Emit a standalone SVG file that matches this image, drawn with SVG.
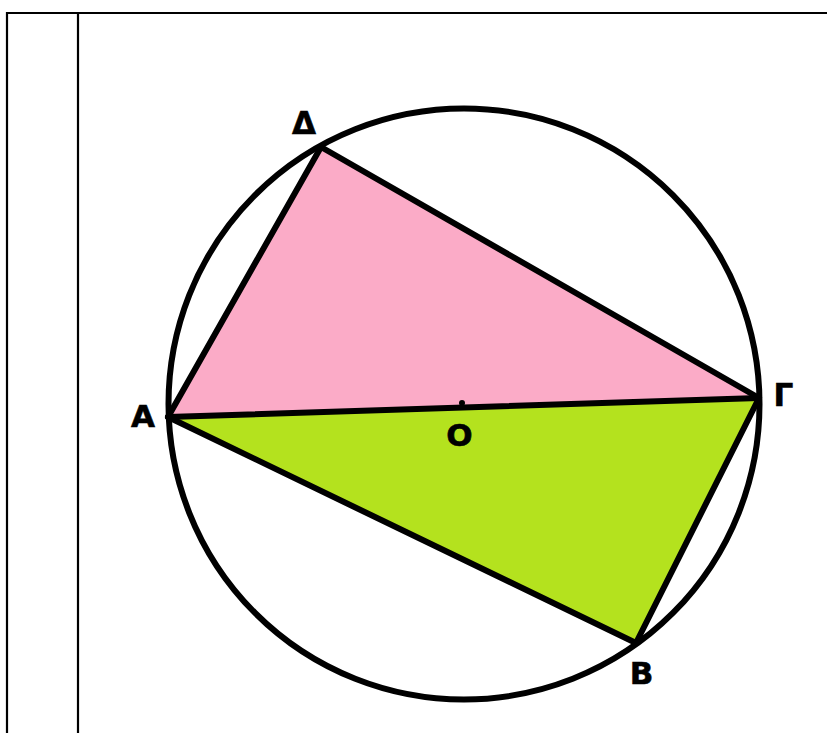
<svg xmlns="http://www.w3.org/2000/svg" width="827" height="733" viewBox="0 0 827 733">
  <style>
    .tbl { stroke: #000; stroke-width: 2.2; fill: none; }
    .edge { stroke: #000; stroke-width: 6; stroke-linejoin: round; stroke-linecap: round; fill: none; }
    .lbl { font-family: "DejaVu Sans", Verdana, sans-serif; font-weight: bold; font-size: 31px; fill: #000; text-anchor: middle; stroke: #000; stroke-width: 0.6; }
  </style>
  <rect width="827" height="733" fill="#fff"/>
  <g id="table">
    <line class="tbl" x1="6" y1="13" x2="827" y2="13"/>
    <line class="tbl" x1="7" y1="12" x2="7" y2="733"/>
    <line class="tbl" x1="78" y1="12" x2="78" y2="733"/>
  </g>
  <g id="fills">
    <polygon points="168,417 321,147 759,398" fill="#FBABC7"/>
    <polygon points="168,417 759,398 636,643" fill="#B4E21E"/>
  </g>
  <g id="circle">
    <circle cx="464" cy="404" r="295.5" class="edge"/>
  </g>
  <g id="connectors">
    <line class="edge" x1="168" y1="417" x2="321" y2="147"/>
    <line class="edge" x1="321" y1="147" x2="759" y2="398"/>
    <line class="edge" x1="168" y1="417" x2="759" y2="398"/>
    <line class="edge" x1="168" y1="417" x2="636" y2="643"/>
    <line class="edge" x1="636" y1="643" x2="759" y2="398"/>
  </g>
  <g id="node-O">
    <circle cx="462" cy="403" r="3" fill="#000"/>
    <text class="lbl" x="459.5" y="446">O</text>
  </g>
  <g id="node-A"><text class="lbl" x="143" y="427">A</text></g>
  <g id="node-Gamma"><text class="lbl" x="783.5" y="406">Γ</text></g>
  <g id="node-Delta"><text class="lbl" x="304" y="134">Δ</text></g>
  <g id="node-B"><text class="lbl" x="641.5" y="684">B</text></g>
</svg>
